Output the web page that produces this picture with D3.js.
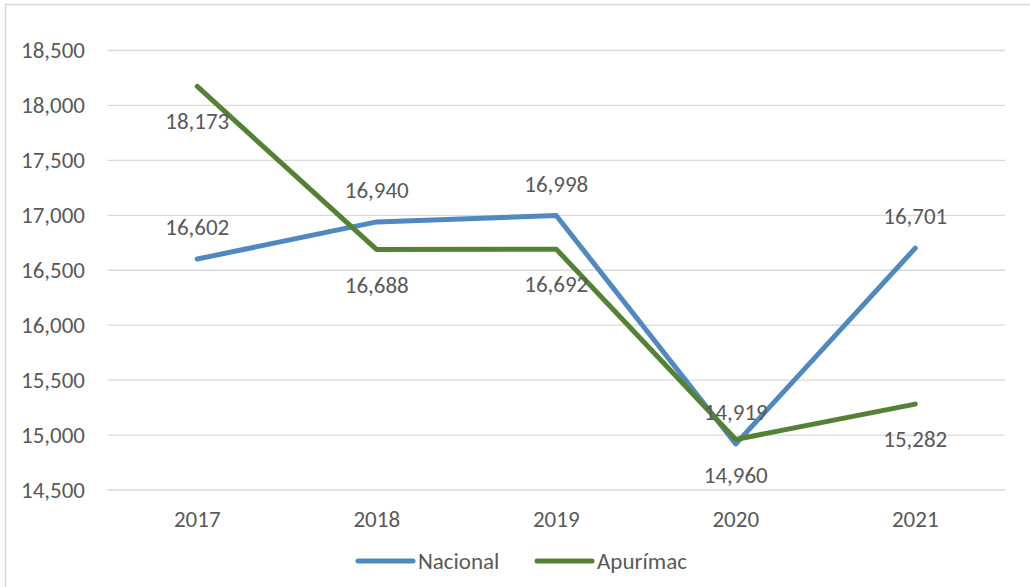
<!DOCTYPE html>
<html>
<head>
<meta charset="utf-8">
<script src="https://cdn.jsdelivr.net/npm/d3@7"></script>
<style>
  body { margin: 0; background: #fff; }
  text { font-family: Carlito, Calibri, Lato, sans-serif; fill: #595959; }
</style>
</head>
<body>
<script>
const years = ["2017", "2018", "2019", "2020", "2021"];
const nacional = [16602, 16940, 16998, 14919, 16701];
const apurimac = [18173, 16688, 16692, 14960, 15282];
const yTicks = [14500, 15000, 15500, 16000, 16500, 17000, 17500, 18000, 18500];

const W = 1030, H = 587;
const FS = 23;
const svg = d3.select("body").append("svg")
  .attr("width", W)
  .attr("height", H);

// outer frame
svg.append("rect")
  .attr("x", 5.5).attr("y", 4.5)
  .attr("width", 1040).attr("height", 600)
  .attr("fill", "none")
  .attr("stroke", "#d9d9d9")
  .attr("stroke-width", 1.5);

const x = d3.scaleBand()
  .domain(years)
  .range([107.5, 1005]);

const y = d3.scaleLinear()
  .domain([14500, 18500])
  .range([490, 50.5]);

// gridlines
svg.append("g")
  .selectAll("line")
  .data(yTicks)
  .join("line")
  .attr("x1", 107.5)
  .attr("x2", 1005)
  .attr("y1", d => y(d))
  .attr("y2", d => y(d))
  .attr("stroke", "#d9d9d9")
  .attr("stroke-width", 1.3);

const fmt = d3.format(",");

// y axis labels
const yAxis = svg.append("g")
  .attr("transform", "translate(93,0)")
  .call(d3.axisLeft(y).tickValues(yTicks).tickFormat(fmt).tickSize(0).tickPadding(8));
yAxis.select(".domain").remove();
yAxis.selectAll("text")
  .attr("font-size", FS)
  .attr("font-family", null)
  .attr("fill", "#595959");

// x axis labels
const xAxis = svg.append("g")
  .attr("transform", "translate(0,507)")
  .call(d3.axisBottom(x).tickSize(0).tickPadding(4));
xAxis.select(".domain").remove();
xAxis.selectAll("text")
  .attr("font-size", FS)
  .attr("font-family", null)
  .attr("fill", "#595959");

const series = [
  {name: "Nacional", values: nacional, color: "#4f89c0", dy: -32},
  {name: "Apurímac", values: apurimac, color: "#548235", dy: 35}
];

const line = d3.line()
  .x((d, i) => x(years[i]) + x.bandwidth() / 2)
  .y(d => y(d));

series.forEach(s => {
  svg.append("path")
    .datum(s.values)
    .attr("fill", "none")
    .attr("stroke", s.color)
    .attr("stroke-width", 5)
    .attr("stroke-linecap", "round")
    .attr("stroke-linejoin", "round")
    .attr("d", line);
});

// data labels
series.forEach(s => {
  svg.append("g")
    .selectAll("text")
    .data(s.values)
    .join("text")
    .attr("x", (d, i) => x(years[i]) + x.bandwidth() / 2)
    .attr("y", d => y(d) + s.dy)
    .attr("dy", "0.35em")
    .attr("text-anchor", "middle")
    .attr("font-size", FS)
    .text(d => fmt(d));
});

// legend
const legend = svg.append("g");
const legendX = [358, 537];
series.forEach((s, i) => {
  legend.append("line")
    .attr("x1", legendX[i]).attr("x2", legendX[i] + 55)
    .attr("y1", 561).attr("y2", 561)
    .attr("stroke", s.color)
    .attr("stroke-width", 5)
    .attr("stroke-linecap", "round");
  legend.append("text")
    .attr("x", legendX[i] + 60)
    .attr("y", 561)
    .attr("dy", "0.35em")
    .attr("font-size", FS)
    .text(s.name);
});
</script>
</body>
</html>
